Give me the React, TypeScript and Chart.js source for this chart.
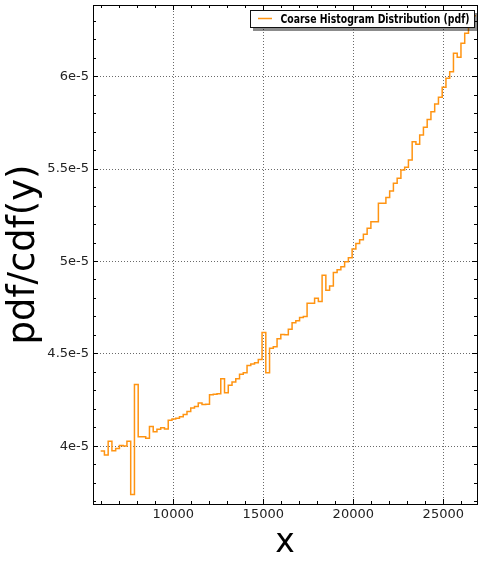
import React, { useEffect, useRef } from 'react';
import { Chart, registerables } from 'chart.js';

Chart.register(...registerables);

// ---- data ----
const seriesLabel = 'Coarse Histogram Distribution (pdf)';
const binStart = 5966; // left edge of the first histogram bin (x units)
const binWidth = 208.5; // uniform bin width (x units)
const pdfValues = [
  3.974e-5, 3.953e-5, 4.027e-5, 3.976e-5, 3.988e-5, 4.005e-5, 4.002e-5, 4.027e-5, 3.739e-5, 4.334e-5,
  4.052e-5, 4.052e-5, 4.044e-5, 4.107e-5, 4.079e-5, 4.092e-5, 4.100e-5, 4.094e-5, 4.141e-5, 4.148e-5,
  4.152e-5, 4.160e-5, 4.172e-5, 4.189e-5, 4.207e-5, 4.215e-5, 4.234e-5, 4.226e-5, 4.227e-5, 4.279e-5,
  4.282e-5, 4.284e-5, 4.365e-5, 4.290e-5, 4.331e-5, 4.348e-5, 4.366e-5, 4.390e-5, 4.398e-5, 4.437e-5,
  4.445e-5, 4.452e-5, 4.470e-5, 4.616e-5, 4.398e-5, 4.531e-5, 4.539e-5, 4.582e-5, 4.605e-5, 4.603e-5,
  4.634e-5, 4.668e-5, 4.680e-5, 4.697e-5, 4.702e-5, 4.774e-5, 4.774e-5, 4.801e-5, 4.783e-5, 4.926e-5,
  4.844e-5, 4.868e-5, 4.940e-5, 4.955e-5, 4.971e-5, 4.999e-5, 5.020e-5, 5.067e-5, 5.098e-5, 5.118e-5,
  5.148e-5, 5.180e-5, 5.215e-5, 5.215e-5, 5.315e-5, 5.315e-5, 5.347e-5, 5.381e-5, 5.423e-5, 5.450e-5,
  5.495e-5, 5.510e-5, 5.549e-5, 5.648e-5, 5.634e-5, 5.685e-5, 5.726e-5, 5.769e-5, 5.811e-5, 5.852e-5,
  5.889e-5, 5.943e-5, 5.991e-5, 6.027e-5, 6.127e-5, 6.105e-5, 6.181e-5, 6.235e-5, 6.300e-5, 6.330e-5,
];

// ---- axes ----
const xMin = 5540;
const xMax = 26873;
const yMin = 3.6878e-5;
const yMax = 6.388e-5;
const xMajorTicks = [10000, 15000, 20000, 25000];
const xTickLabels = ['10000', '15000', '20000', '25000'];
const yMajorTicks = [4e-5, 4.5e-5, 5e-5, 5.5e-5, 6e-5];
const yTickLabels = ['4e-5', '4.5e-5', '5e-5', '5.5e-5', '6e-5'];
const xMinorStep = 1000;
const yMinorStep = 1e-6;
const xTitle = 'x';
const yTitle = 'pdf/cdf(y)';

const lineColor = '#ff9412';
const gridColor = '#6a6a6a';
const tickFont = { family: 'DejaVu Sans', size: 13 };

function majorIndex(list: number[], v: number) {
  return list.findIndex((m) => Math.abs(m - v) <= Math.abs(m) * 1e-6);
}

function minorTicks(min: number, max: number, step: number) {
  const out: { value: number }[] = [];
  const first = Math.ceil(min / step - 1e-9);
  const last = Math.floor(max / step + 1e-9);
  for (let i = first; i <= last; i++) out.push({ value: +(i * step).toPrecision(10) });
  return out;
}

function noPad(s: any) {
  s.paddingTop = 0;
  s.paddingBottom = 0;
  s.paddingLeft = 0;
  s.paddingRight = 0;
}

const legendBoxPlugin = {
  id: 'legendBox',
  afterDraw(chart: any) {
    const { ctx, chartArea } = chart;
    const ds = chart.data.datasets[0];
    const x = chartArea.right - 227;
    const y = chartArea.top + 5;
    const w = 224;
    const h = 17;
    ctx.save();
    ctx.fillStyle = 'rgba(0,0,0,0.45)';
    ctx.fillRect(x + 3, y + 3, w + 1, h + 1);
    ctx.fillStyle = '#ffffff';
    ctx.fillRect(x, y, w, h);
    ctx.strokeStyle = '#111';
    ctx.lineWidth = 1;
    ctx.strokeRect(x + 0.5, y + 0.5, w, h);
    // sample line
    ctx.strokeStyle = ds.borderColor;
    ctx.lineWidth = 1.5;
    ctx.beginPath();
    ctx.moveTo(x + 8, y + 8.5);
    ctx.lineTo(x + 22, y + 8.5);
    ctx.stroke();
    // label (slightly condensed like the reference)
    ctx.fillStyle = '#000';
    ctx.font = 'bold 12px "DejaVu Sans"';
    ctx.textBaseline = 'alphabetic';
    ctx.textAlign = 'left';
    const tw = ctx.measureText(ds.label).width;
    const target = 189;
    ctx.translate(x + 30.5, y + 12.6);
    ctx.scale(target / tw, 1);
    ctx.fillText(ds.label, 0, 0);
    ctx.restore();
  },
};

export default function App() {
  const ref = useRef<HTMLCanvasElement | null>(null);

  useEffect(() => {
    if (!ref.current) return;
    const points = pdfValues.map((v, i) => ({ x: binStart + i * binWidth, y: v }));
    points.push({ x: binStart + pdfValues.length * binWidth, y: pdfValues[pdfValues.length - 1] });

    const xTickCb = (v: any) => {
      const i = majorIndex(xMajorTicks, Number(v));
      return i >= 0 ? xTickLabels[i] : '';
    };
    const yTickCb = (v: any) => {
      const i = majorIndex(yMajorTicks, Number(v));
      return i >= 0 ? yTickLabels[i] : '';
    };
    const isMajX = (c: any) => c.tick && majorIndex(xMajorTicks, c.tick.value) >= 0;
    const isMajY = (c: any) => c.tick && majorIndex(yMajorTicks, c.tick.value) >= 0;

    const chart = new Chart(ref.current, {
      type: 'line',
      data: {
        datasets: [
          {
            label: seriesLabel,
            data: points,
            stepped: 'before',
            borderColor: lineColor,
            borderWidth: 1.5,
            borderJoinStyle: 'miter',
            pointRadius: 0,
            fill: false,
            tension: 0,
            xAxisID: 'x',
            yAxisID: 'y',
          } as any,
        ],
      },
      options: {
        responsive: false,
        animation: false,
        devicePixelRatio: 1,
        layout: { autoPadding: false, padding: { left: 0, right: 1, top: 5, bottom: 0 } },
        plugins: {
          legend: { display: false },
          tooltip: { enabled: false },
        },
        scales: {
          x: {
            type: 'linear',
            position: 'bottom',
            min: xMin,
            max: xMax,
            afterBuildTicks: (s: any) => {
              s.ticks = minorTicks(xMin, xMax, xMinorStep);
            },
            afterFit: (s: any) => {
              s.height = 61;
              noPad(s);
            },
            ticks: {
              autoSkip: false,
              maxRotation: 0,
              minRotation: 0,
              padding: 8,
              color: '#222',
              font: tickFont,
              callback: xTickCb,
            },
            grid: {
              drawOnChartArea: true,
              drawTicks: true,
              tickLength: -5,
              lineWidth: 1,
              color: (c: any) => (isMajX(c) ? gridColor : 'rgba(0,0,0,0)'),
              tickColor: '#000',
              tickWidth: 1,
              tickBorderDash: (c: any) => (isMajX(c) ? [] : [4, 100]),
            },
            border: { display: true, color: '#000', width: 1, dash: [1, 2] },
            title: {
              display: true,
              text: xTitle,
              color: '#000',
              font: { family: 'DejaVu Sans', size: 33 },
              padding: { top: 0, bottom: 1.6 },
            },
          },
          x2: {
            type: 'linear',
            position: 'top',
            display: true,
            min: xMin,
            max: xMax,
            afterBuildTicks: (s: any) => {
              s.ticks = minorTicks(xMin, xMax, xMinorStep);
            },
            afterFit: (s: any) => {
              s.height = 0;
              noPad(s);
            },
            ticks: { display: false, autoSkip: false },
            grid: {
              drawOnChartArea: false,
              drawTicks: true,
              tickLength: -5,
              tickColor: '#000',
              tickWidth: 1,
              tickBorderDash: (c: any) => (isMajX(c) ? [] : [0, 2, 3, 100]),
            },
            border: { display: true, color: '#000', width: 1 },
          },
          y: {
            type: 'linear',
            position: 'left',
            min: yMin,
            max: yMax,
            afterBuildTicks: (s: any) => {
              s.ticks = minorTicks(yMin, yMax, yMinorStep);
            },
            afterFit: (s: any) => {
              s.width = 93;
              noPad(s);
            },
            ticks: {
              autoSkip: false,
              padding: 9,
              color: '#222',
              font: tickFont,
              callback: yTickCb,
            },
            grid: {
              drawOnChartArea: true,
              drawTicks: true,
              tickLength: -5,
              lineWidth: 1,
              color: (c: any) => (isMajY(c) ? gridColor : 'rgba(0,0,0,0)'),
              tickColor: '#000',
              tickWidth: 1,
              tickBorderDash: (c: any) => (isMajY(c) ? [] : [0, 2, 3, 100]),
            },
            border: { display: true, color: '#000', width: 1, dash: [1, 2] },
            title: {
              display: true,
              text: yTitle,
              color: '#000',
              font: { family: 'DejaVu Sans', size: 37 },
              padding: { top: 2, bottom: 0 },
            },
          },
          y2: {
            type: 'linear',
            position: 'right',
            display: true,
            min: yMin,
            max: yMax,
            afterBuildTicks: (s: any) => {
              s.ticks = minorTicks(yMin, yMax, yMinorStep);
            },
            afterFit: (s: any) => {
              s.width = 0;
              noPad(s);
            },
            ticks: { display: false, autoSkip: false },
            grid: {
              drawOnChartArea: false,
              drawTicks: true,
              tickLength: -5,
              tickColor: '#000',
              tickWidth: 1,
              tickBorderDash: (c: any) => (isMajY(c) ? [] : [4, 100]),
            },
            border: { display: true, color: '#000', width: 1 },
          },
        },
      } as any,
      plugins: [legendBoxPlugin],
    });
    return () => chart.destroy();
  }, []);

  return (
    <div style={{ position: 'absolute', left: 0, top: 0, width: 478, height: 565, background: '#fff' }}>
      <canvas ref={ref} width={478} height={565} style={{ display: 'block', width: 478, height: 565 }} />
    </div>
  );
}
